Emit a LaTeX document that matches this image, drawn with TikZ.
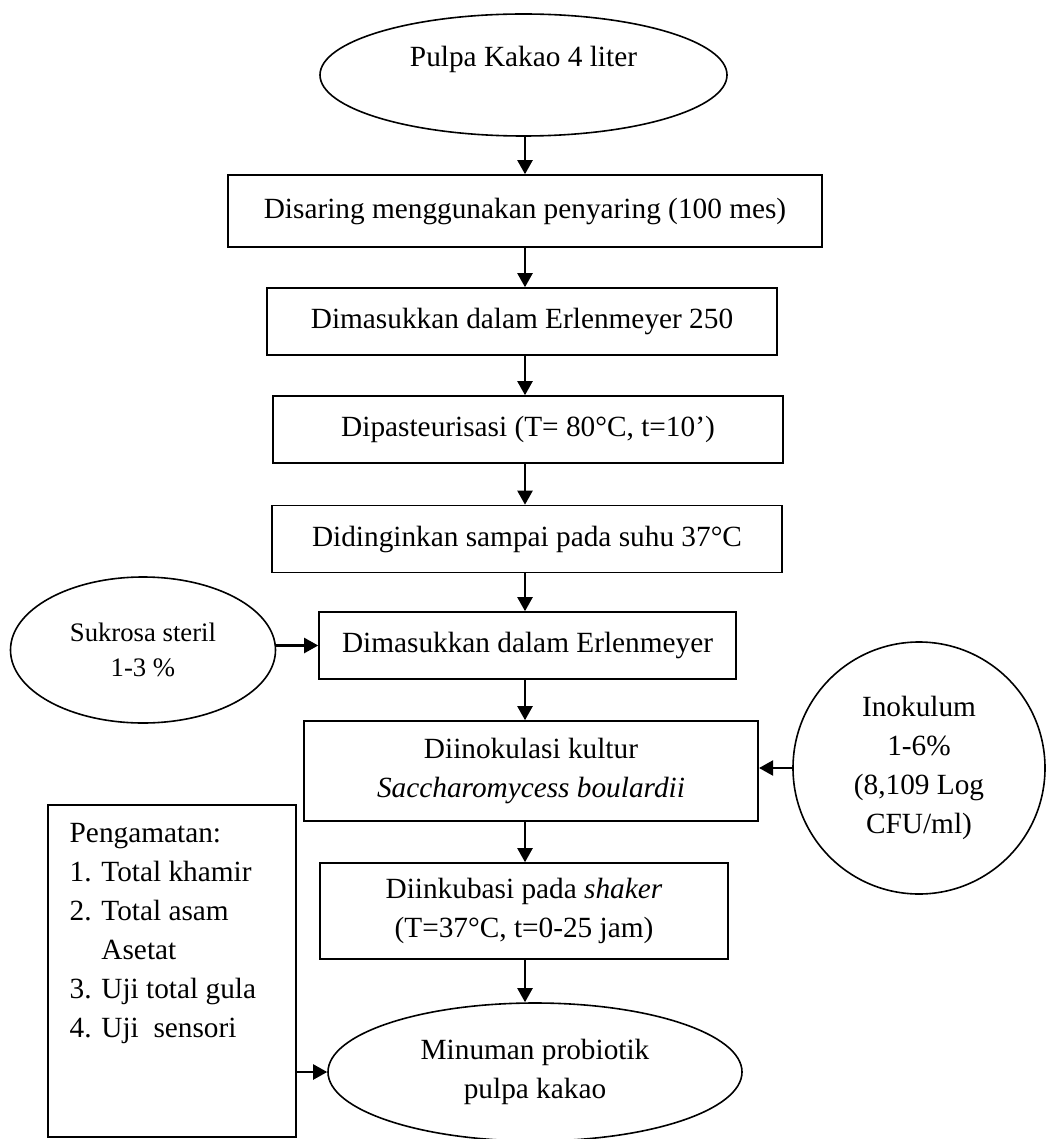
\documentclass[tikz,border=0pt]{standalone}
\usepackage{fontspec}
\setmainfont{Liberation Serif}
\usetikzlibrary{arrows.meta,shapes.geometric}
\begin{document}
\begin{tikzpicture}[x=1pt,y=-1pt,
  box/.style={draw, line width=1.6pt, rectangle, inner sep=0pt, font=\fontsize{29.3}{39}\selectfont, align=center},
  oval/.style={draw, line width=1.6pt, ellipse, inner sep=0pt, font=\fontsize{29.3}{39}\selectfont, align=center},
  arr/.style={-{Triangle[length=14pt,width=15pt]}, line width=2.2pt},
  txt/.style={inner sep=0pt, font=\fontsize{29.3}{39}\selectfont}
]
\useasboundingbox (0,0) rectangle (1050,1139);
\coordinate (ax) at (525,0);
% top ellipse
\node[oval, minimum width=407, minimum height=122] (top) at (523.5,75) {};
\node[txt, anchor=base] (toptxt) at (523.5,67) {Pulpa Kakao 4 liter};
% boxes
\node[box, minimum width=594, minimum height=72] (s1) at (525,211) {Disaring menggunakan penyaring (100 mes)};
\node[box, minimum width=509.5, minimum height=67] (s2) at (522,321.5) {Dimasukkan dalam Erlenmeyer 250};
\node[box, minimum width=510, minimum height=67] (s3) at (528,429.5) {Dipasteurisasi (T= 80°C, t=10’)};
\node[box, minimum width=510, minimum height=67] (s4) at (527,539) {Didinginkan sampai pada suhu 37°C};
\node[box, minimum width=417, minimum height=67] (s5) at (527.5,645.5) {Dimasukkan dalam Erlenmeyer};
\node[box, minimum width=454.5, minimum height=100] (s6) at (531,771) {Diinokulasi kultur\\\textit{Saccharomycess boulardii}};
\node[box, minimum width=408, minimum height=96] (s7) at (524,911) {Diinkubasi pada \textit{shaker}\\(T=37°C, t=0-25 jam)};
\node[oval, minimum width=414, minimum height=138] (end) at (535,1072) {Minuman probiotik\\pulpa kakao};
% side inputs
\node[oval, minimum width=265, minimum height=146, font=\fontsize{26.7}{35}\selectfont] (suk) at (143,650) {Sukrosa steril\\1-3 \%};
\node[oval, minimum width=252, minimum height=252] (ino) at (919,768) {Inokulum\\1-6\%\\(8,109 Log\\CFU/ml)};
% observations
\node[draw, line width=1.6pt, rectangle, inner sep=0pt, minimum width=248, minimum height=332] (obs) at (172,971) {};
\node[txt, align=left, anchor=base west] (obstxt) at (69.5,1037) {Pengamatan:\\1. Total khamir\\2. Total asam\\\phantom{1. }Asetat\\3. Uji total gula\\4. Uji\ \ sensori};
% arrows
\draw[arr] (top.south -| ax) -- (s1.north -| ax);
\draw[arr] (s1.south -| ax) -- (s2.north -| ax);
\draw[arr] (s2.south -| ax) -- (s3.north -| ax);
\draw[arr] (s3.south -| ax) -- (s4.north -| ax);
\draw[arr] (s4.south -| ax) -- (s5.north -| ax);
\draw[arr] (s5.south -| ax) -- (s6.north -| ax);
\draw[arr] (s6.south -| ax) -- (s7.north -| ax);
\draw[arr] (s7.south -| ax) -- (end.north -| ax);
\draw[arr] (suk.east |- s5.west) -- (s5.west);
\draw[arr] (ino.west) -- (ino.west -| s6.east);
\draw[arr] (obs.east |- end.west) -- (end.west);
\end{tikzpicture}
\end{document}
